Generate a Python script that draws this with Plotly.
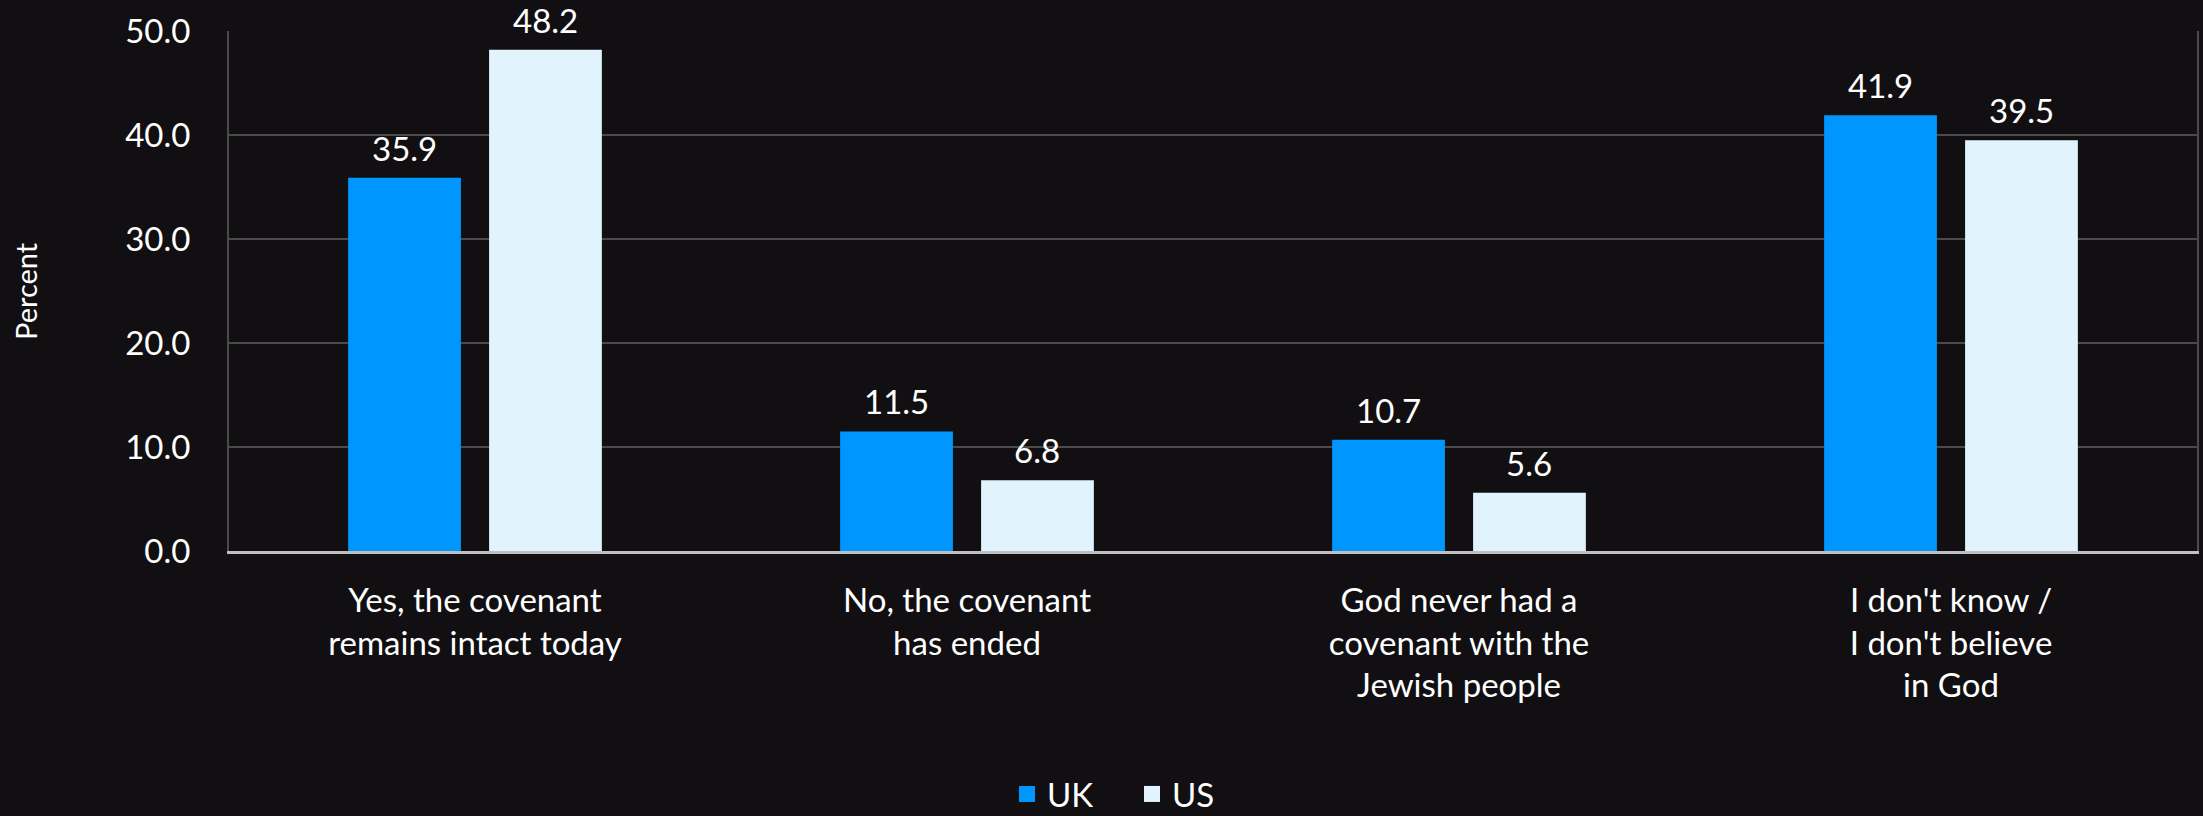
import plotly.graph_objects as go

categories = [
    "Yes, the covenant<br>remains intact today",
    "No, the covenant<br>has ended",
    "God never had a<br>covenant with the<br>Jewish people",
    "I don't know /<br>I don't believe<br>in God",
]
uk_values = [35.9, 11.5, 10.7, 41.9]
us_values = [48.2, 6.8, 5.6, 39.5]
y_ticks = [0, 10, 20, 30, 40, 50]
series_names = ["UK", "US"]
series_colors = ["#0096FF", "#E1F4FD"]

FONT = "Lato"
W, H = 2203, 816
ML, MR, MT, MB = 229, 6, 31, 265
PW = W - ML - MR
PH = H - MT - MB

fig = go.Figure()
for name, vals, col in zip(series_names, [uk_values, us_values], series_colors):
    fig.add_trace(go.Bar(x=categories, y=vals, name=name, marker=dict(color=col, line=dict(width=0)),
                         showlegend=False, hoverinfo="y"))
# legend proxies with larger square symbols
for name, col in zip(series_names, series_colors):
    fig.add_trace(go.Scatter(x=[None], y=[None], mode="markers", name=name,
                             marker=dict(symbol="square", size=22, color=col), showlegend=True))

# value labels
slot = (1 - 0.427) / 2
for i, (vals, off) in enumerate([(uk_values, -slot / 2), (us_values, slot / 2)]):
    for j, v in enumerate(vals):
        fig.add_annotation(x=j + off, y=v, xref="x", yref="y", text=f"{v:.1f}",
                           showarrow=False, yanchor="bottom", yshift=8,
                           font=dict(family=FONT, size=33, color="white"))

fig.add_annotation(x=-(ML - 25) / PW, y=0.5, xref="paper", yref="paper", text="Percent",
                   textangle=-90, showarrow=False, xanchor="center", yanchor="middle",
                   font=dict(family=FONT, size=29, color="white"))

fig.update_layout(
    width=W, height=H,
    margin=dict(l=ML, r=MR, t=MT, b=MB),
    paper_bgcolor="#110f12", plot_bgcolor="rgba(0,0,0,0)",
    barmode="group", bargap=0.427, bargroupgap=0.2,
    font=dict(family=FONT, color="white"),
    legend=dict(orientation="h", xref="container", yref="container",
                x=1132 / W, xanchor="center", y=(H - 794) / H, yanchor="middle",
                font=dict(family=FONT, size=33, color="white"), bgcolor="rgba(0,0,0,0)",
                itemsizing="trace", entrywidth=80, entrywidthmode="pixels"),
    xaxis=dict(type="category", showline=True, linecolor="#BFBFBF", linewidth=3,
               showgrid=False, ticks="", tickfont=dict(family=FONT, size=33, color="white"),
               ticklabelstandoff=18, range=[-0.5, 3.5], fixedrange=True, automargin=False),
    yaxis=dict(range=[0, 50], tickvals=y_ticks, ticktext=[f"{t:.1f}" for t in y_ticks],
               showgrid=True, gridcolor="#4a4a4a", gridwidth=2, zeroline=False,
               showline=True, mirror=True, linecolor="#4a4a4a", linewidth=2,
               ticks="", tickfont=dict(family=FONT, size=33, color="white"), ticklabelstandoff=30,
               fixedrange=True, automargin=False),
)

fig.write_html("out.html", config={"displayModeBar": False},
               post_script="document.body.style.margin='0';document.body.style.background='#110f12';")
